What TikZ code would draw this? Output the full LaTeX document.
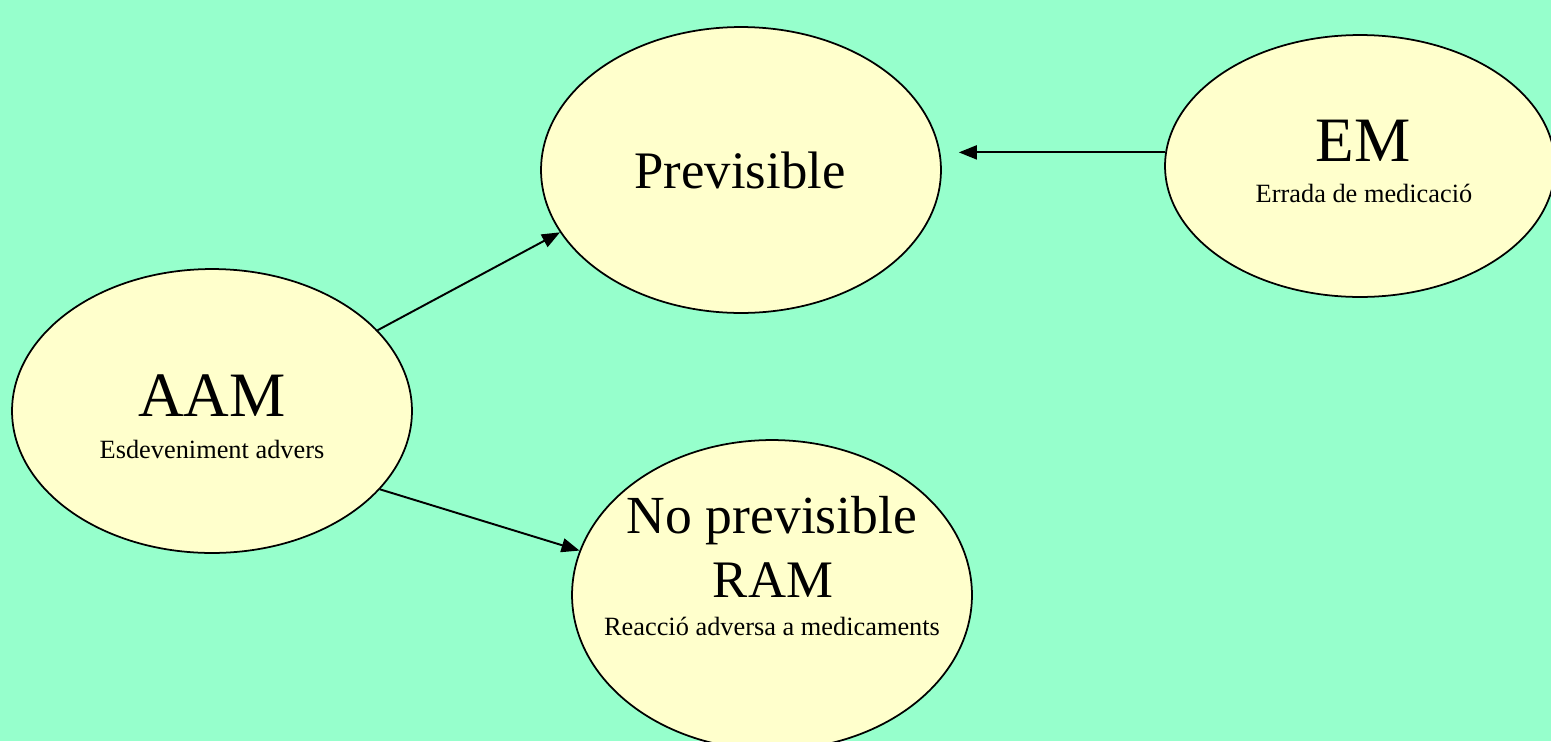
\documentclass[tikz,border=0pt]{standalone}
\usepackage{fontspec}
\setmainfont{Liberation Serif}
\usetikzlibrary{shapes.geometric,arrows.meta}
\definecolor{mint}{RGB}{150,255,204}
\definecolor{cream}{RGB}{255,255,204}
\begin{document}
\begin{tikzpicture}[x=0.02cm, y=-0.02cm,
    bubble/.style={ellipse, draw=black, line width=1pt, fill=cream, minimum width=8cm, inner sep=0pt},
    bigtext/.style={font=\fontsize{#1}{#1}\selectfont, anchor=base, inner sep=0pt},
    smalltext/.style={font=\fontsize{15}{18}\selectfont, anchor=base, inner sep=0pt},
    link/.style={-{Triangle[length=0.36cm, width=0.28cm]}, line width=1.1pt}]
  \fill[mint] (0,0) rectangle (1551,741);
  \useasboundingbox (0,0) rectangle (1551,741);

  % bubbles
  \node[bubble, minimum height=5.72cm] (prev) at (741,170) {};
  \node[bubble, minimum width=7.8cm, minimum height=5.24cm] (em) at (1360,166) {};
  \node[bubble, minimum height=5.68cm] (aam) at (212,411) {};
  \node[bubble, minimum height=6.2cm] (noprev) at (772,595) {};

  % texts
  \node[bigtext=30] (prevtxt) at (740,188) {Previsible};
  \node[bigtext=36] (emtxt) at (1363,161) {EM};
  \node[smalltext] (emsub) at (1364,202) {Errada de medicació};
  \node[bigtext=36] (aamtxt) at (212,416) {AAM};
  \node[smalltext] (aamsub) at (212,458) {Esdeveniment advers};
  \node[bigtext=30.5] (noprevtxt) at (772,533) {No previsible};
  \node[bigtext=30] (ramtxt) at (773,597) {RAM};
  \node[smalltext] (ramsub) at (772,635) {Reacció adversa a medicaments};

  % links
  \draw[link] (aam.26) -- (prev.199);
  \draw[link, shorten >=0.34cm] (em.176) -- (prev.east |- em.176);
  \draw[link] (aam.-25) -- (noprev.167);
\end{tikzpicture}
\end{document}
